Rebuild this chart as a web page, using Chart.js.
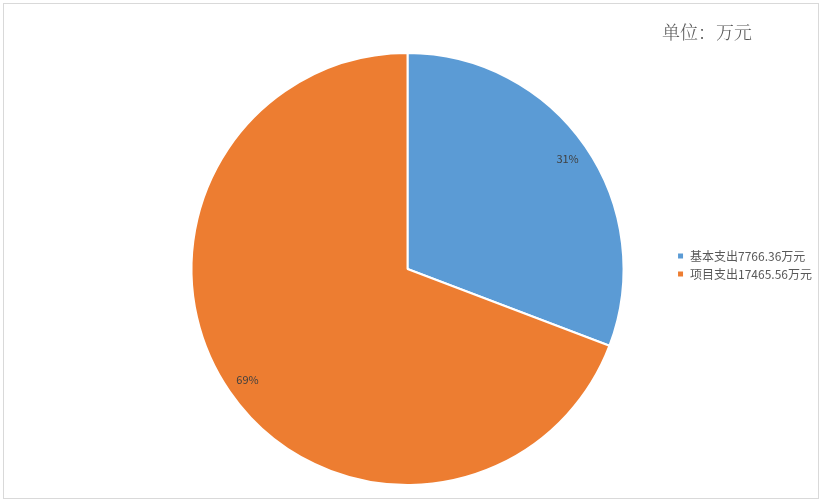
<!DOCTYPE html>
<html>
<head>
<meta charset="utf-8">
<script src="https://cdn.jsdelivr.net/npm/chart.js@4/dist/chart.umd.min.js"></script>
<style>
  html, body { margin: 0; padding: 0; background: #fff; }
  #wrap { position: relative; width: 823px; height: 502px; }
</style>
</head>
<body>
<div id="wrap"><canvas id="c" width="823" height="502"></canvas></div>
<script>
// Expenditure breakdown (unit: 10k yuan)
const categories = ['基本支出', '项目支出'];
const amounts = [7766.36, 17465.56];
const colors = ['#5b9bd5', '#ed7d31'];
const unitTitle = '单位：万元';

const legendLabels = categories.map((c, i) => c + amounts[i].toFixed(2) + '万元');
const total = amounts.reduce((a, b) => a + b, 0);

const sansFont = '"Microsoft YaHei", "Noto Sans CJK SC", "Noto Sans", sans-serif';

// frame around the whole chart plus the unit caption
const framePlugin = {
  id: 'frame',
  afterLayout(chart) {
    // lift the legend block slightly above the pie's vertical centre
    if (chart.legend) {
      chart.legend.top -= 4;
      chart.legend.bottom -= 4;
    }
  },
  beforeDraw(chart) {
    const ctx = chart.ctx;
    ctx.save();
    ctx.strokeStyle = '#d9d9d9';
    ctx.lineWidth = 1;
    ctx.strokeRect(3.5, 3.5, 815, 495);
    ctx.restore();
  },
  afterDraw(chart) {
    const ctx = chart.ctx;
    ctx.save();
    ctx.font = '300 18px "Noto Serif CJK SC", "Noto Sans CJK SC", serif';
    ctx.fillStyle = '#595959';
    ctx.textAlign = 'right';
    ctx.textBaseline = 'middle';
    ctx.fillText(unitTitle, 752, 32);
    ctx.restore();
  }
};

// percentage labels placed inside each slice
const percentPlugin = {
  id: 'percentLabels',
  afterDatasetsDraw(chart) {
    const ctx = chart.ctx;
    const meta = chart.getDatasetMeta(0);
    ctx.save();
    ctx.font = '11px ' + sansFont;
    ctx.fillStyle = '#404040';
    ctx.textAlign = 'center';
    ctx.textBaseline = 'middle';
    meta.data.forEach((arc, i) => {
      const p = arc.getProps(['x', 'y', 'startAngle', 'endAngle', 'outerRadius'], true);
      const mid = (p.startAngle + p.endAngle) / 2;
      const r = p.outerRadius * 0.9;
      const pct = Math.round(amounts[i] / total * 100) + '%';
      ctx.fillText(pct, p.x + Math.cos(mid) * r, p.y + Math.sin(mid) * r);
    });
    ctx.restore();
  }
};

new Chart(document.getElementById('c'), {
  type: 'pie',
  data: {
    labels: legendLabels,
    datasets: [{
      data: amounts,
      backgroundColor: colors,
      borderColor: '#ffffff',
      borderWidth: 2
    }]
  },
  options: {
    responsive: false,
    animation: false,
    layout: { padding: { top: 52, bottom: 16, left: 144, right: 1 } },
    plugins: {
      legend: {
        position: 'right',
        labels: {
          boxWidth: 7,
          boxHeight: 7,
          padding: 6,
          color: '#595959',
          font: { size: 12, family: sansFont }
        }
      },
      tooltip: { enabled: false }
    }
  },
  plugins: [framePlugin, percentPlugin]
});
</script>
</body>
</html>
